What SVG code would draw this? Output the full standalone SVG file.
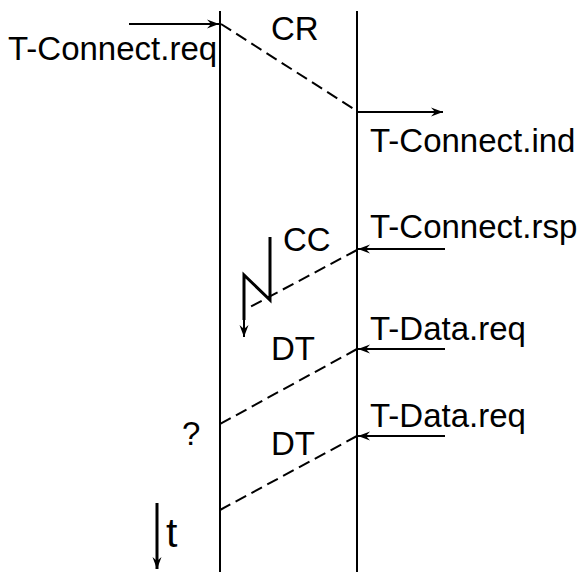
<svg xmlns="http://www.w3.org/2000/svg" width="583" height="572" viewBox="0 0 583 572">
<style>
text{font-family:"Liberation Sans",Arial,sans-serif;font-size:33px;fill:#000}
.ln{stroke:#000;stroke-width:2;fill:none}
.ds{stroke:#000;stroke-width:2;fill:none;stroke-dasharray:12 6}
.bold{stroke:#000;stroke-width:3;fill:none}
</style>
<defs>
<marker id="ah" viewBox="-13 -5 14 10" refX="0" refY="0" markerWidth="14" markerHeight="10" markerUnits="userSpaceOnUse" orient="auto">
<path d="M0,0 L-12,-4.5 L-8,0 L-12,4.5 Z" fill="#000"/>
</marker>
</defs>
<rect width="583" height="572" fill="#fff"/>
<g id="entityA"><line class="ln" x1="220" y1="11" x2="220" y2="572"/></g>
<g id="entityB"><line class="ln" x1="357" y1="11" x2="357" y2="572"/></g>
<g id="connectors">
<line class="ln" x1="129" y1="24" x2="219" y2="24" marker-end="url(#ah)"/>
<line class="ds" x1="221" y1="24" x2="357" y2="111"/>
<line class="ln" x1="357" y1="112" x2="443" y2="112" marker-end="url(#ah)"/>
<line class="ln" x1="445" y1="249" x2="358" y2="249" marker-end="url(#ah)"/>
<line class="ds" x1="357" y1="250" x2="250" y2="307"/>
<polyline class="bold" points="270,237 270,300 244,275 244,320"/>
<line class="ln" x1="244" y1="318" x2="244" y2="337" stroke-width="2.5" marker-end="url(#ah)"/>
<line class="ln" x1="445" y1="349" x2="358" y2="349" marker-end="url(#ah)"/>
<line class="ds" x1="357" y1="349" x2="220" y2="424"/>
<line class="ln" x1="445" y1="436" x2="358" y2="436" marker-end="url(#ah)"/>
<line class="ds" x1="357" y1="436" x2="220" y2="510"/>
<line class="bold" x1="157" y1="503" x2="157" y2="569" marker-end="url(#ah)"/>
</g>
<g id="labels">
<text x="8" y="60">T-Connect.req</text>
<text x="271" y="40">CR</text>
<text x="370" y="152">T-Connect.ind</text>
<text x="370" y="238">T-Connect.rsp</text>
<text x="283" y="251">CC</text>
<text x="370" y="340">T-Data.req</text>
<text x="271" y="360">DT</text>
<text x="182" y="445">?</text>
<text x="370" y="427">T-Data.req</text>
<text x="271" y="455">DT</text>
<text x="166" y="547" style="font-size:41px">t</text>
</g>
</svg>
